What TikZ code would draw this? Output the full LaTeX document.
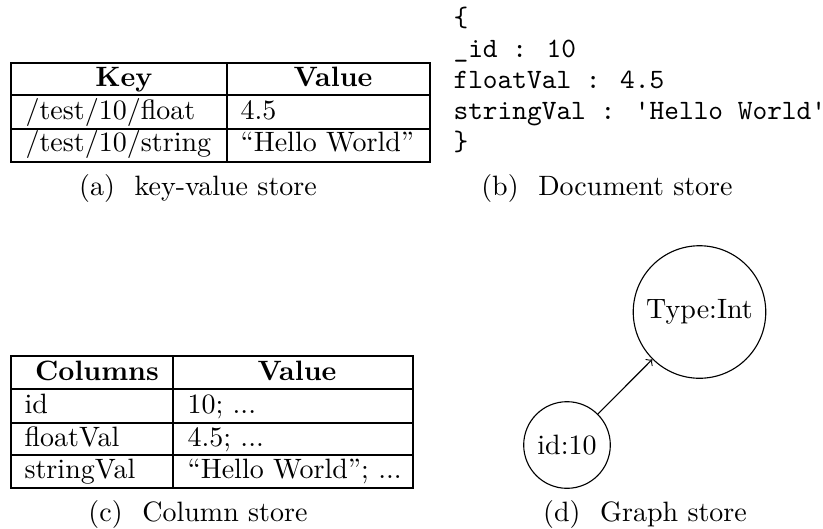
\documentclass[tikz,border=0pt]{standalone}
\usepackage{fontspec}
\usepackage{tikz}
\usetikzlibrary{positioning}

\begin{document}
\begin{tikzpicture}[x=0.357pt, y=-0.357pt,
  cell/.style={anchor=west, inner sep=0pt, text height=1.6ex, text depth=.4ex},
  head/.style={anchor=center, inner sep=0pt, font=\bfseries, text height=1.6ex, text depth=.4ex},
  capt/.style={inner sep=0pt},
  frame/.style={line width=0.8pt},
  store/.style={circle, draw}]
  \useasboundingbox (0,0) rectangle (823,528);

  % (a) key-value store
  \draw[frame] (11,63) rectangle (430,162);
  \draw (11,95) -- (430,95) (11,129) -- (430,129) (227,63) -- (227,162);
  \node[head] (kvkey) at (124,79) {Key};
  \node[head] (kvval) at (333,79) {Value};
  \node[cell] (kvfloat) at (25,112) {/test/10/float};
  \node[cell] (kvfloatv) at (240,112) {4.5};
  \node[cell] (kvstring) at (25,144) {/test/10/string};
  \node[cell] (kvstringv) at (240,144) {``Hello World''};
  \node[capt] (capa) at (198,188) {(a)\hspace{7pt}key-value store};

  % (b) document store
  \node[anchor=base west, align=left, inner sep=0pt,
        font={\ttfamily\fontsize{10pt}{11pt}\selectfont}] (doc) at (453,150)
    {\{\\\_id : 10\\floatVal : 4.5\\stringVal : 'Hello World'\\\}};
  \node[capt] (capb) at (607,188) {(b)\hspace{7pt}Document store};

  % (c) column store
  \draw[frame] (11,356) rectangle (413,488);
  \draw (11,389) -- (413,389) (11,423) -- (413,423) (11,455) -- (413,455) (173,356) -- (173,488);
  \node[head] (colcols) at (97,373) {Columns};
  \node[head] (colval) at (297,373) {Value};
  \node[cell] (colid) at (24,406) {id};
  \node[cell] (colidv) at (187,406) {10; ...};
  \node[cell] (colfloat) at (24,439) {floatVal};
  \node[cell] (colfloatv) at (187,439) {4.5; ...};
  \node[cell] (colstring) at (24,471) {stringVal};
  \node[cell] (colstringv) at (187,471) {``Hello World''; ...};
  \node[capt] (capc) at (198,514) {(c)\hspace{7pt}Column store};

  % (d) graph store
  \node[store] (type) at (699.5,312) {Type:Int};
  \node[store] (id) at (567,445) {id:10};
  \draw[->] (id) -- (type);
  \node[capt] (capd) at (645,514) {(d)\hspace{7pt}Graph store};
\end{tikzpicture}
\end{document}
